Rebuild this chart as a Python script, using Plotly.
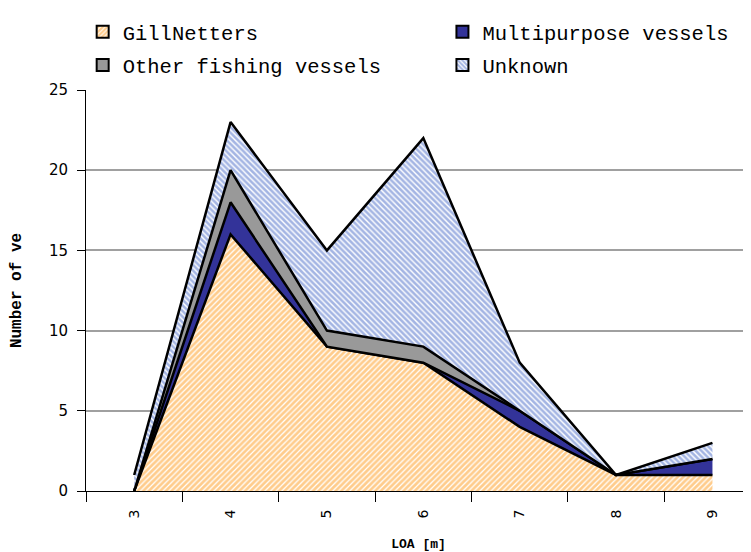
import plotly.graph_objects as go

loa = ["3", "4", "5", "6", "7", "8", "9"]
gillnetters = [0, 16, 9, 8, 4, 1, 1]
multipurpose = [0, 2, 0, 0, 1, 0, 1]
other_fishing = [0, 2, 1, 1, 0, 0, 0]
unknown = [1, 3, 5, 13, 3, 0, 1]

names = ["GillNetters", "Multipurpose vessels", "Other fishing vessels", "Unknown"]
series = [gillnetters, multipurpose, other_fishing, unknown]

orange_hatch = dict(shape="/", fgcolor="#FF9A1A", bgcolor="white", size=4, solidity=0.7)
blue_hatch = dict(shape="\\", fgcolor="#4A6CC8", bgcolor="white", size=4, solidity=0.65)
fills = [
    dict(fillcolor="white", fillpattern=orange_hatch),
    dict(fillcolor="#333399"),
    dict(fillcolor="#999999"),
    dict(fillcolor="white", fillpattern=blue_hatch),
]
bar_markers = [
    dict(color="white", pattern=orange_hatch, line=dict(color="black", width=2)),
    dict(color="#333399", line=dict(color="black", width=2)),
    dict(color="#999999", line=dict(color="black", width=2)),
    dict(color="white", pattern=blue_hatch, line=dict(color="black", width=2)),
]
legend_ids = ["legend", "legend2", "legend3", "legend4"]
# where each legend entry sits (paper coords): two columns, two rows
legend_pos = [(-0.005, 1.145), (0.536, 1.145), (-0.005, 1.062), (0.536, 1.062)]

FONT = "Liberation Mono"

fig = go.Figure()

# stacked areas
for name, vals, f in zip(names, series, fills):
    fig.add_trace(go.Scatter(
        x=loa, y=vals, name=name, stackgroup="one", mode="lines",
        line=dict(color="black", width=2.5), showlegend=False, **f,
    ))

# legend-only entries so the legend shows squares
for name, mk, lg in zip(names, bar_markers, legend_ids):
    fig.add_trace(go.Bar(x=[None], y=[None], name=name, marker=mk, legend=lg))

legend_font = dict(size=20.5, family=FONT, color="black")
for lg, (lx, ly) in zip(legend_ids, legend_pos):
    fig.update_layout({lg: dict(x=lx, xanchor="left", y=ly, yanchor="middle",
                                font=legend_font, itemwidth=30)})

fig.update_layout(
    width=743, height=544,
    margin=dict(l=78, r=0, t=82, b=61, autoexpand=False),
    paper_bgcolor="white", plot_bgcolor="white",
    font=dict(family="DejaVu Sans", color="black"),
    xaxis=dict(
        type="category", range=[-0.5, 6.4],
        tickson="boundaries", ticks="outside", ticklen=10, tickcolor="black",
        tickangle=-90, tickfont=dict(size=14, family="DejaVu Sans"),
        ticklabelstandoff=12,
        showline=True, linecolor="black", linewidth=1,
        showgrid=False,
        title=dict(text="<b>LOA [m]</b>", font=dict(size=13, family=FONT), standoff=22),
    ),
    yaxis=dict(
        range=[0, 25], dtick=5, ticks="outside", ticklen=8, tickcolor="black",
        tickfont=dict(size=15, family="DejaVu Sans"),
        ticklabelstandoff=6,
        showline=True, linecolor="black", linewidth=1,
        showgrid=True, gridcolor="#A0A0A0", gridwidth=1.5,
        zeroline=False,
        title=dict(text="<b>Number of ve</b>", font=dict(size=16, family=FONT), standoff=24),
    ),
)

fig.write_html("out.html")
